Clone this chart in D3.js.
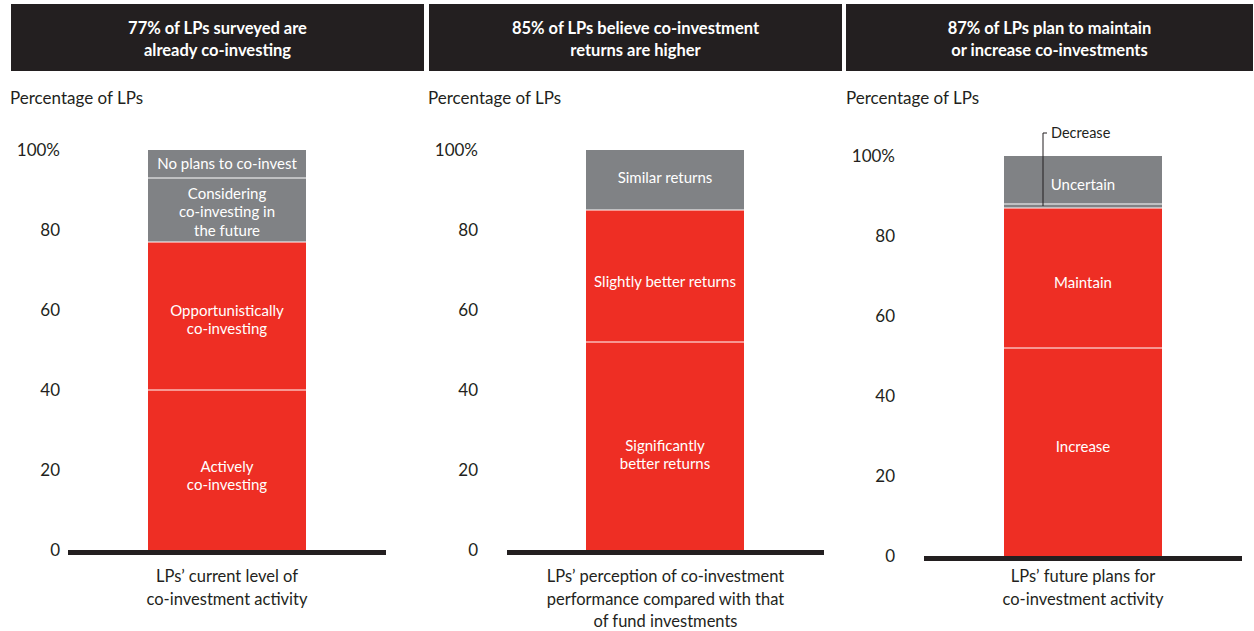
<!DOCTYPE html>
<html><head><meta charset="utf-8">
<script src="https://cdn.jsdelivr.net/npm/d3@7"></script>
<style>body{margin:0;background:#fff;} svg{display:block;font-family:Lato,"Noto Sans",sans-serif;}</style>
</head><body><svg id="c" width="1254" height="631"></svg>
<script>
// ---- data ----
const headers = [
  ["77% of LPs surveyed are", "already co-investing"],
  ["85% of LPs believe co-investment", "returns are higher"],
  ["87% of LPs plan to maintain", "or increase co-investments"]
];
const axisTitle = "Percentage of LPs";
const tickValues = [0, 20, 40, 60, 80, 100];
const categories = [
  ["LPs\u2019 current level of", "co-investment activity"],
  ["LPs\u2019 perception of co-investment", "performance compared with that", "of fund investments"],
  ["LPs\u2019 future plans for", "co-investment activity"]
];
const seg1Names = [["Actively","co-investing"],["Opportunistically","co-investing"],["Considering","co-investing in","the future"],["No plans to co-invest"]];
const seg1Values = [40, 37, 16, 7];
const seg2Names = [["Significantly","better returns"],["Slightly better returns"],["Similar returns"]];
const seg2Values = [52, 33, 15];
const seg3Names = [["Increase"],["Maintain"],["Decrease"],["Uncertain"]];
const seg3Values = [52, 35, 1, 12];
const segKinds = [["pos","pos","neu","neu"],["pos","pos","neu"],["pos","pos","neu","neu"]];

// ---- layout ----
const RED = "#ee2e24", GRAY = "#808285", DARK = "#231f20";
const panels = [
  {box:[11,424], titleX:10, tickX:60, base:[68,386], bar:[148,306], y0:550, y1:150, names:seg1Names, vals:seg1Values, dy:[6,4,2,0]},
  {box:[429,842], titleX:428, tickX:478, base:[507,824], bar:[586,744], y0:550, y1:150, names:seg2Names, vals:seg2Values, dy:[9,6,-2]},
  {box:[846,1253], titleX:846, tickX:895, base:[924,1242], bar:[1004,1162], y0:556, y1:156, names:seg3Names, vals:seg3Values, dy:[-5,5,0,5]}
];
const svg = d3.select("#c");

panels.forEach((p, i) => {
  const g = svg.append("g");
  // header
  g.append("rect").attr("x", p.box[0]).attr("y", 4).attr("width", p.box[1]-p.box[0]).attr("height", 67).attr("fill", DARK);
  const hc = (p.box[0]+p.box[1])/2;
  headers[i].forEach((t, j) => g.append("text").attr("x", hc).attr("y", 34 + j*21.5)
    .attr("text-anchor","middle").attr("fill","#fff").attr("font-weight","bold").attr("font-size",16.5).text(t));
  g.append("text").attr("x", p.titleX).attr("y", 104).attr("font-size",17).attr("fill",DARK).text(axisTitle);

  const y = d3.scaleLinear().domain([0,100]).range([p.y0, p.y1]);
  const x = d3.scaleBand().domain([0]).range(p.bar).padding(0);

  // axis
  const ax = g.append("g").attr("transform", `translate(${p.tickX},0)`)
    .call(d3.axisLeft(y).tickValues(tickValues).tickSize(0).tickPadding(0).tickFormat(d => d===100 ? "100%" : d));
  ax.select(".domain").remove();
  ax.selectAll("text").attr("font-size",17).attr("fill",DARK).attr("font-family","Lato,'Noto Sans',sans-serif");

  // stacked segments
  let cum = 0;
  const segs = p.vals.map((v, k) => { const s = {k, a:cum, b:cum+v, names:p.names[k], kind:segKinds[i][k]}; cum += v; return s; });
  g.selectAll("rect.seg").data(segs).enter().append("rect").attr("class","seg")
    .attr("x", x(0)).attr("width", x.bandwidth())
    .attr("y", d => y(d.b)).attr("height", d => y(d.a)-y(d.b))
    .attr("fill", d => d.kind==="pos" ? RED : GRAY);
  // white separators
  g.selectAll("line.sep").data(segs.slice(1)).enter().append("line")
    .attr("x1", x(0)).attr("x2", x(0)+x.bandwidth())
    .attr("y1", d => y(d.a)).attr("y2", d => y(d.a)).attr("stroke","#fff").attr("stroke-width",1);

  // labels inside
  segs.forEach(s => {
    if (i===2 && s.k===2) return;
    const cy = (y(s.a)+y(s.b))/2 + p.dy[s.k], n = s.names.length, lh = 18.5;
    s.names.forEach((t, j) => g.append("text").attr("x", x(0)+x.bandwidth()/2)
      .attr("y", cy + (j-(n-1)/2)*lh + 5).attr("text-anchor","middle").attr("fill","#fff").attr("font-size",15).text(t));
  });

  // baseline
  g.append("line").attr("x1", p.base[0]).attr("x2", p.base[1]).attr("y1", y(0)+2.5).attr("y2", y(0)+2.5)
    .attr("stroke", DARK).attr("stroke-width",5);

  // category label
  const cx = (p.base[0]+p.base[1])/2;
  categories[i].forEach((t, j) => g.append("text").attr("x", cx).attr("y", 582 + j*22.5)
    .attr("text-anchor","middle").attr("font-size",16.5).attr("fill",DARK).text(t));

  // Decrease callout
  if (i===2) {
    const d = segs[2];
    const lx = x(0) + 39, ym = (y(d.a)+y(d.b))/2;
    g.append("path").attr("d", `M${lx},${ym}V${133}H${lx+4}`).attr("fill","none").attr("stroke",DARK).attr("stroke-width",1);
    g.append("text").attr("x", lx+8).attr("y", 138).attr("font-size",14.5).attr("fill",DARK).text(d.names[0]);
  }
});
</script></body></html>
